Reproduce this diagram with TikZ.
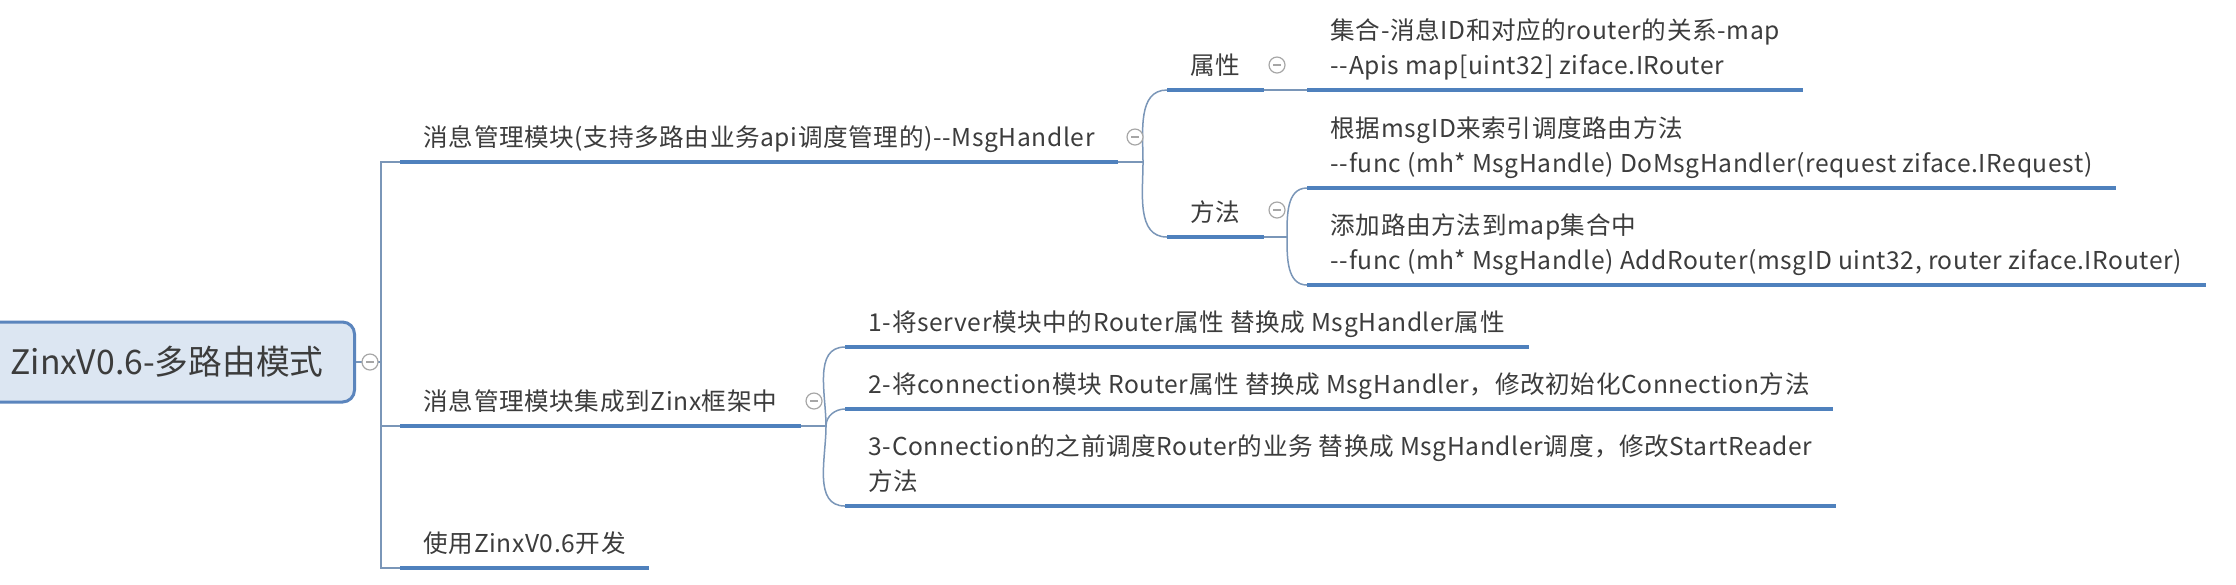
\documentclass[tikz,border=0pt]{standalone}
\usepackage{fontspec}
\newfontfamily\zhfont{Noto Sans CJK SC}[LetterSpace=2.5]
\newfontfamily\rootfont{Noto Sans CJK SC}
\definecolor{ublue}{HTML}{4F81BD}
\definecolor{lblue}{HTML}{7A96B8}
\definecolor{tgray}{HTML}{3C3C3C}
\definecolor{fgray}{HTML}{A6A6A6}
\definecolor{rootfill}{HTML}{DCE6F2}
\definecolor{rootline}{HTML}{5B85BD}

\begin{document}
\begin{tikzpicture}[x=0.1mm,y=-0.1mm]
		\tikzset{topic/.style = {anchor=south west, align=left, inner xsep=2.3mm, inner ysep=0.4mm, text=tgray, font=\zhfont\fontsize{7}{10}\selectfont, execute at end node=\strut}}
		\tikzset{root/.style = {draw=rootline, fill=rootfill, line width=0.3mm, rounded corners=1.2mm, minimum width=37.5mm, minimum height=8mm, text=tgray, font=\rootfont\fontsize{9.6}{12}\selectfont}}
		\tikzset{fold/.style = {circle, draw=fgray, fill=white, line width=0.12mm, minimum size=1.6mm, inner sep=0pt, path picture={\draw[fgray, line width=0.12mm] ([xshift=0.4mm]path picture bounding box.west) -- ([xshift=-0.4mm]path picture bounding box.east);}}}
		\tikzset{link/.style = {draw=lblue, line width=0.15mm}}
		\tikzset{uline/.style = {draw=ublue, line width=0.45mm}}
		
		\fill[white] (0,0) rectangle (2236,584);
		\useasboundingbox (0,0) rectangle (2236,584);
		
		\node[root]  (root) at ( 167, 362) {ZinxV0.6-多路由模式};
		
		\node[topic]   (b1) at ( 400, 162) {消息管理模块(支持多路由业务api调度管理的)--MsgHandler};
		\node[topic]   (b2) at ( 400, 426) {消息管理模块集成到Zinx框架中};
		\node[topic]   (b3) at ( 400, 568) {使用ZinxV0.6开发};
		
		\node[topic] (attr) at (1167,  90) {属性};
		\node[topic] (meth) at (1167, 237) {方法};
		\node[topic] (attr1) at (1307,  90) {集合-消息ID和对应的router的关系-map\\--Apis map[uint32] ziface.IRouter};
		\node[topic] (meth1) at (1307, 188) {根据msgID来索引调度路由方法\\--func (mh* MsgHandle) DoMsgHandler(request ziface.IRequest)};
		\node[topic] (meth2) at (1307, 285) {添加路由方法到map集合中\\--func (mh* MsgHandle) AddRouter(msgID uint32, router ziface.IRouter)};
		
		\node[topic] (int1) at ( 845, 347) {1-将server模块中的Router属性 替换成 MsgHandler属性};
		\node[topic] (int2) at ( 845, 409) {2-将connection模块 Router属性 替换成 MsgHandler，修改初始化Connection方法};
		\node[topic] (int3) at ( 845, 506) {3-Connection的之前调度Router的业务 替换成 MsgHandler调度，修改StartReader\\方法};
		
		\coordinate (t)  at ( 381, 362);
		\coordinate (j1) at (1143, 162);
		\coordinate (jm) at (1287, 237);
		\coordinate (j2) at ( 826, 426);
		
		\draw[link] (root) -- (t);
		\draw[link] (b1.south west) -| (t) |- (b3.south west);
		\draw[link] (t) |- (b2.south west);
		\draw[link] (b1.south east) -- (j1);
		\draw[link] (j1) to[out=90, in=180] (attr.south west);
		\draw[link] (j1) to[out=-90, in=180] (meth.south west);
		\draw[link] (attr.south east) -- (attr1.south west);
		\draw[link] (meth.south east) -- (jm);
		\draw[link] (jm) to[out=90, in=180] (meth1.south west);
		\draw[link] (jm) to[out=-90, in=180] (meth2.south west);
		\draw[link] (b2.south east) -- (j2);
		\draw[link] (j2) to[out=90, in=180] (int1.south west);
		\draw[link] (j2) to[out=90, in=180] (int2.south west);
		\draw[link] (j2) to[out=-90, in=180] (int3.south west);
		
		\draw[uline] (b1.south west) -- (b1.south east);
		\draw[uline] (b2.south west) -- (b2.south east);
		\draw[uline] (b3.south west) -- (b3.south east);
		\draw[uline] (attr.south west) -- (attr.south east);
		\draw[uline] (meth.south west) -- (meth.south east);
		\draw[uline] (attr1.south west) -- (attr1.south east);
		\draw[uline] (meth1.south west) -- (meth1.south east);
		\draw[uline] (meth2.south west) -- (meth2.south east);
		\draw[uline] (int1.south west) -- (int1.south east);
		\draw[uline] (int2.south west) -- (int2.south east);
		\draw[uline] (int3.south west) -- (int3.south east);
		
		\node[fold] (f0) at ( 370, 362) {};
		\node[fold] (f1) at (1135, 137) {};
		\node[fold] (f2) at ( 814, 401) {};
		\node[fold] (fa) at (1277,  65) {};
		\node[fold] (fm) at (1277, 210) {};
\end{tikzpicture}
\end{document}
